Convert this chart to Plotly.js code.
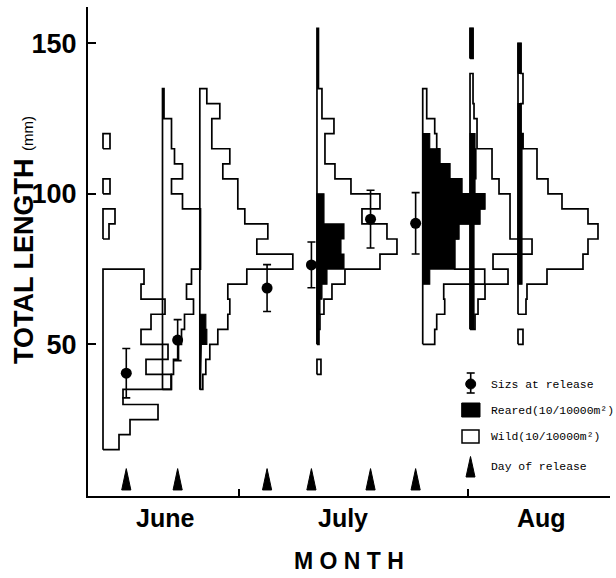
<!DOCTYPE html>
<html>
<head>
<meta charset="utf-8">
<script src="https://cdn.plot.ly/plotly-3.0.1.min.js"></script>
<style>html,body{margin:0;padding:0;background:#fff;}#chart{width:616px;height:578px;}</style>
</head>
<body>
<div id="chart"></div>
<script>
// ---------------- DATA ----------------
// x axis: day counted from 1 June (1 July = 30, 1 Aug = 61)
const monthLabels = ["June", "July", "Aug"];
const monthLabelDays = [20, 44.1, 70.9];
const monthBoundaryDays = [30, 61];
const yTickVals = [50, 100, 150];

// sampling dates of the length-frequency histograms
const histDays = [11.6, 19.65, 24.7, 40.55, 54.86, 61.26, 67.75];
// lower edge (mm) of first 5-mm class for each histogram
const histStarts = [15, 35, 35, 40, 50, 55, 50];
// outline (wild + reared) density per 5-mm class
const h1Total = [16, 27, 55, 20, 68, 43, 65, 38, 48, 62, 38, 41, 0, 0, 6, 12, 0, 7, 0, 0, 7];
const h2Total = [9, 11, 16, 19, 22, 31, 24, 29, 38, 38, 38, 38, 20, 9, 20, 12, 9, 9, 1.5, 1.5];
const h3Total = [3, 6, 10, 18, 28, 30, 28, 47, 93, 57, 68, 45, 38, 38, 23, 30, 12, 12, 20, 7];
const h4Total = [4, 0, 2, 3, 7, 15, 28, 63, 80, 70, 45, 63, 34, 18, 8, 8, 17, 5, 5, 1.5, 1.5, 1.5, 1.5];
const h5Total = [12, 14, 22, 21, 62, 32, 32, 36, 57, 62, 39, 27, 17, 14, 12, 4, 4];
const h6Total = [5, 8, 15, 38, 23, 62, 40, 40, 40, 29, 22, 22, 7, 7, 4, 3, 3, 0, 3, 3];
const h7Total = [5, 0, 8, 9, 29, 65, 70, 80, 70, 44, 30, 19, 19, 5, 3, 3, 5, 5, 3, 3];
// reared density per 5-mm class (same starting class)
const h1Reared = [];
const h2Reared = [];
const h3Reared = [1, 1, 1.5, 7, 6];
const h4Reared = [0, 0, 1.5, 2, 3, 5, 10, 27, 24, 27, 7, 7];
const h5Reared = [0, 0, 0, 0, 7, 32, 32, 36, 57, 62, 39, 27, 17, 7];
const h6Reared = [4, 4, 4, 4, 4, 4, 4, 4, 5, 5, 6, 6, 5, 0, 0, 0, 0, 0, 3, 3];
const h7Reared = [0, 0, 0, 0, 4, 4, 4, 4, 4, 4, 4, 4, 4, 5, 3, 3, 0, 0, 3, 3];

// release events
const releaseDays = [14.75, 21.7, 33.8, 39.8, 47.8, 53.9];
const releaseMean = [40.4, 51.4, 68.7, 76.4, 91.6, 90.2];
const releaseSD = [8.2, 6.8, 7.8, 7.6, 9.6, 10.2];

// ---------------- DRAWING ----------------
const BIN = 5;
const K = 1 / 7.39;           // density unit -> days of x axis
const totals = [h1Total, h2Total, h3Total, h4Total, h5Total, h6Total, h7Total];
const reareds = [h1Reared, h2Reared, h3Reared, h4Reared, h5Reared, h6Reared, h7Reared];

function stepPolygon(day, start, widths) {
  const xs = [], ys = [];
  let i = 0;
  while (i < widths.length) {
    if (!(widths[i] > 0)) { i++; continue; }
    let j = i;
    while (j + 1 < widths.length && widths[j + 1] > 0) j++;
    const y0 = start + i * BIN;
    xs.push(day); ys.push(y0);
    for (let k = i; k <= j; k++) {
      const x = day + widths[k] * K;
      xs.push(x, x); ys.push(start + k * BIN, start + (k + 1) * BIN);
    }
    xs.push(day, day); ys.push(start + (j + 1) * BIN, y0);
    xs.push(null); ys.push(null);
    i = j + 1;
  }
  return { xs, ys };
}

const traces = [];
totals.forEach((w, h) => {
  const p = stepPolygon(histDays[h], histStarts[h], w);
  traces.push({ type: 'scatter', mode: 'lines', x: p.xs, y: p.ys, line: { color: '#000', width: 1.7 },
    hoverinfo: 'skip', showlegend: false, connectgaps: false });
});
reareds.forEach((w, h) => {
  if (!w.length) return;
  const p = stepPolygon(histDays[h], histStarts[h], w);
  traces.push({ type: 'scatter', mode: 'lines', x: p.xs, y: p.ys, fill: 'toself', fillcolor: '#000',
    line: { color: '#000', width: 1.2 }, hoverinfo: 'skip', showlegend: false, connectgaps: false });
});

// day-of-release arrows
const ax = [], ay = [];
releaseDays.forEach(d => { ax.push(d - 0.62, d, d + 0.62, d - 0.62, null); ay.push(1.6, 8.7, 1.6, 1.6, null); });
traces.push({ type: 'scatter', mode: 'lines', x: ax, y: ay, fill: 'toself', fillcolor: '#000',
  line: { color: '#000', width: 1 }, hoverinfo: 'skip', showlegend: false });

// size at release
traces.push({ type: 'scatter', mode: 'markers', x: releaseDays, y: releaseMean,
  marker: { symbol: 'circle', size: 11, color: '#000' },
  error_y: { type: 'data', array: releaseSD, visible: true, color: '#000', thickness: 1.6, width: 4 },
  showlegend: false });

// ---------------- LAYOUT ----------------
const L = 88, R = 610, T = 7, B = 496;
const px = v => (v - L) / (R - L);
const py = v => (B - v) / (B - T);
const font = 'Liberation Sans, Arial, sans-serif';
const mono = 'Liberation Mono, DejaVu Sans Mono, monospace';

const shapes = [
  // legend: size at release
  { type: 'line', xref: 'paper', yref: 'paper', x0: px(470.7), x1: px(470.7), y0: py(373), y1: py(393), line: { color: '#000', width: 1.6 } },
  { type: 'line', xref: 'paper', yref: 'paper', x0: px(466.7), x1: px(474.7), y0: py(373), y1: py(373), line: { color: '#000', width: 1.6 } },
  { type: 'line', xref: 'paper', yref: 'paper', x0: px(466.7), x1: px(474.7), y0: py(393), y1: py(393), line: { color: '#000', width: 1.6 } },
  { type: 'circle', xref: 'paper', yref: 'paper', x0: px(465.7), x1: px(475.7), y0: py(379), y1: py(389), fillcolor: '#000', line: { color: '#000', width: 1 } },
  // legend: reared
  { type: 'rect', xref: 'paper', yref: 'paper', x0: px(461.7), x1: px(480), y0: py(403), y1: py(417), fillcolor: '#000', line: { color: '#000', width: 1 } },
  // legend: wild
  { type: 'rect', xref: 'paper', yref: 'paper', x0: px(462), x1: px(479), y0: py(430), y1: py(443), fillcolor: 'rgba(0,0,0,0)', line: { color: '#000', width: 1.5 } },
  // legend: day of release
  { type: 'path', xref: 'paper', yref: 'paper',
    path: `M ${px(466)} ${py(477)} L ${px(470.5)} ${py(456.5)} L ${px(475)} ${py(477)} Z`, fillcolor: '#000', line: { color: '#000', width: 1 } }
];

const legendTexts = ["Sizs at release", "Reared(10/10000m\u00b2)", "Wild(10/10000m\u00b2)", "Day of release"];
const legendRows = [385, 411, 437, 467];
const annotations = legendTexts.map((t, i) => ({
  text: t, xref: 'paper', yref: 'paper', x: px(489), y: py(legendRows[i]), xanchor: 'left', yanchor: 'middle',
  showarrow: false, font: { family: mono, size: 11.4, color: '#000' }
}));
annotations.push({
  text: "TOTAL LENGTH <span style='font-size:15px;font-weight:normal'>(mm)</span>", textangle: -90,
  xref: 'paper', yref: 'paper', x: px(24), y: py(240), xanchor: 'center', yanchor: 'middle', showarrow: false,
  font: { family: font, size: 27, color: '#000', weight: 'bold' }
});
annotations.push({
  text: "M O N T H", xref: 'paper', yref: 'paper', x: px(349), y: py(561), xanchor: 'center', yanchor: 'middle',
  showarrow: false, font: { family: font, size: 23, color: '#000', weight: 'bold' }
});
monthLabels.forEach((m, i) => annotations.push({
  text: m, xref: 'x', yref: 'paper', x: monthLabelDays[i], y: py(518), xanchor: 'center', yanchor: 'middle',
  showarrow: false, font: { family: font, size: 25, color: '#000', weight: 'bold' }
}));

const layout = {
  width: 616, height: 578,
  margin: { l: L, r: 616 - R, t: T, b: 578 - B },
  paper_bgcolor: '#fff', plot_bgcolor: '#fff',
  showlegend: false,
  xaxis: {
    range: [9.57, 80.2], showgrid: false, zeroline: false,
    showline: true, linecolor: '#000', linewidth: 2,
    tickvals: monthLabelDays, ticktext: monthLabels, ticks: '', showticklabels: false,
    minor: { tickvals: monthBoundaryDays, ticks: 'inside', ticklen: 7, tickwidth: 1.6, tickcolor: '#000', showgrid: false }
  },
  yaxis: {
    range: [-0.4, 162.1], showgrid: false, zeroline: false,
    showline: true, linecolor: '#000', linewidth: 2,
    tickvals: yTickVals, ticks: 'inside', ticklen: 8, tickwidth: 2, tickcolor: '#000',
    tickfont: { family: font, size: 27, color: '#000', weight: 'bold' },
    ticklabelstandoff: 4
  },
  shapes: shapes,
  annotations: annotations
};

Plotly.newPlot('chart', traces, layout, { staticPlot: true, displayModeBar: false });
</script>
</body>
</html>
